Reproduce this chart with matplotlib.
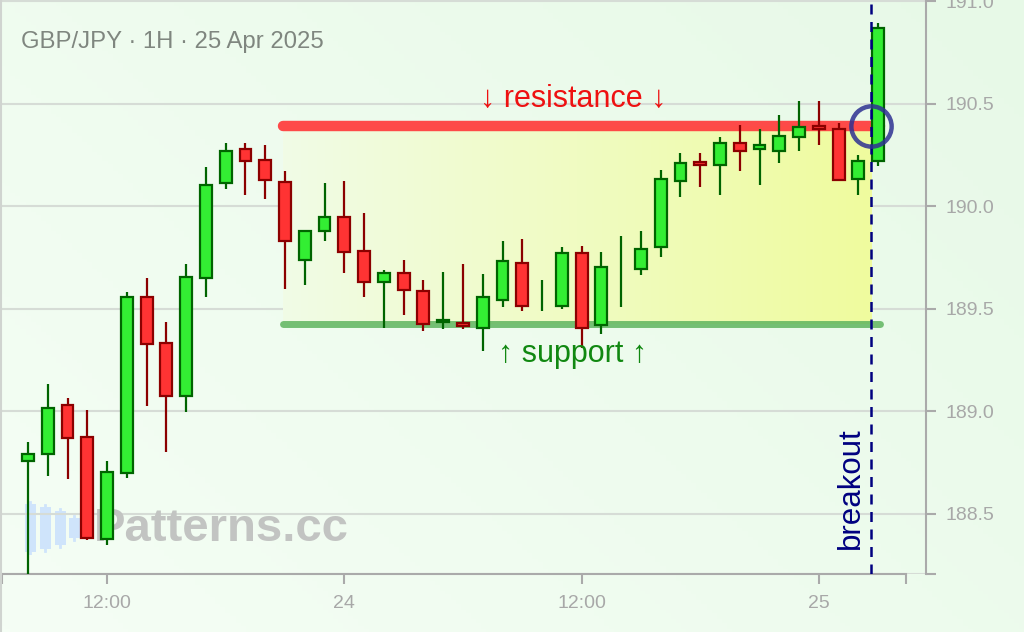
import matplotlib
matplotlib.use("Agg")
import matplotlib.pyplot as plt
import numpy as np
from matplotlib.colors import LinearSegmentedColormap
from matplotlib.lines import Line2D
from matplotlib.patches import Rectangle

plt.rcParams['font.family'] = ['Liberation Sans', 'DejaVu Sans']

# GBP/JPY hourly candles, 23 Apr 08:00 -> 25 Apr 03:00
opens = [188.758, 188.789, 189.028, 188.871, 188.377, 188.699, 189.554, 189.332, 189.072, 189.650,
         190.113, 190.279, 190.223, 190.115, 189.739, 189.876, 189.946, 189.781, 189.631, 189.674,
         189.585, 189.433, 189.430, 189.405, 189.543, 189.721, 189.560, 189.512, 189.770, 189.419,
         189.600, 189.691, 189.798, 190.121, 190.213, 190.201, 190.309, 190.279, 190.268, 190.338,
         190.391, 190.377, 190.132, 190.219]
closes = [188.789, 189.015, 188.866, 188.382, 188.701, 189.554, 189.327, 189.072, 189.652, 190.103,
          190.270, 190.218, 190.129, 189.828, 189.879, 189.946, 189.778, 189.631, 189.674, 189.590,
          189.424, 189.445, 189.414, 189.556, 189.732, 189.512, 189.560, 189.770, 189.405, 189.701,
          189.600, 189.789, 190.132, 190.211, 190.198, 190.309, 190.268, 190.299, 190.340, 190.387,
          190.375, 190.129, 190.221, 190.868]
highs = [188.847, 189.131, 189.062, 189.003, 188.758, 189.582, 189.650, 189.435, 189.719, 190.190,
         190.307, 190.307, 190.298, 190.170, 189.884, 190.111, 190.121, 189.964, 189.690, 189.739,
         189.641, 189.680, 189.719, 189.670, 189.828, 189.837, 189.641, 189.798, 189.807, 189.778,
         189.855, 189.876, 190.178, 190.257, 190.257, 190.337, 190.394, 190.375, 190.445, 190.513,
         190.513, 190.404, 190.247, 190.894]
lows = [188.204, 188.685, 188.670, 188.371, 188.348, 188.672, 189.023, 188.798, 188.995, 189.554,
        190.083, 190.056, 190.034, 189.595, 189.613, 189.828, 189.672, 189.554, 189.407, 189.468,
        189.389, 189.399, 189.399, 189.291, 189.507, 189.487, 189.487, 189.497, 189.309, 189.377,
        189.508, 189.662, 189.750, 190.044, 190.093, 190.056, 190.172, 190.105, 190.211, 190.270,
        190.299, 190.126, 190.056, 190.195]

xtick_pos = [4, 16, 28, 40]
xtick_labels = ['12:00', '24', '12:00', '25']
yticks = [188.5, 189.0, 189.5, 190.0, 190.5, 191.0]

resistance = 190.388
support = 189.425
zone_start = 12.9
zone_end = 43.1
breakout_x = 42.65

x = np.arange(len(opens))
o = np.array(opens)
c = np.array(closes)
h = np.array(highs)
l = np.array(lows)
up = c >= o

fig = plt.figure(figsize=(10.24, 6.32), dpi=100)
fig.patch.set_facecolor('#f0fcf0')

# soft background wash
bg = fig.add_axes([0, 0, 1, 1], zorder=-10)
gx, gy = np.meshgrid(np.linspace(0, 1, 200), np.linspace(0, 1, 200))
bg.imshow(gx * 0.6 + (1 - gy) * 0.4, extent=[0, 1, 0, 1], aspect='auto',
          cmap=LinearSegmentedColormap.from_list('bg', ['#f5fef5', '#e7f9e7']))
bg.axis('off')

# watermark icon (light blue candles)
icon = fig.add_axes([22 / 1024, 77 / 632, 62 / 1024, 54 / 632], zorder=-1)
icon_x = [0.8, 2.3, 3.8, 5.2]
icon_h = [1.0, 0.9, 0.72, 0.46]
for ix, ih in zip(icon_x, icon_h):
    icon.add_patch(Rectangle((ix - 0.55, 0.5 - ih / 2 + 0.04), 1.1, ih - 0.08,
                             color='#cfe4fb', lw=0))
    icon.plot([ix, ix], [0.5 - ih / 2, 0.5 + ih / 2], color='#cfe4fb', lw=2)
icon.set_xlim(0, 6.2)
icon.set_ylim(-0.02, 1.02)
icon.axis('off')

ax = fig.add_axes([2 / 1024, 58 / 632, 924 / 1024, 574 / 632])
ax.set_facecolor('none')

# range zone between support and resistance
zone_cmap = LinearSegmentedColormap.from_list('zone', ['#f1fbe6', '#effc9e'])
ax.imshow(np.linspace(0, 1, 256).reshape(1, -1), cmap=zone_cmap, aspect='auto',
          extent=[zone_start, breakout_x, support, resistance], zorder=1)

ax.plot([zone_start, zone_end], [resistance, resistance], color='#ff4040', lw=7.5,
        alpha=0.95, solid_capstyle='round', zorder=2)
ax.plot([zone_start, zone_end], [support, support], color='#5fb55f', lw=5,
        alpha=0.85, solid_capstyle='round', zorder=2)

# candles
ax.vlines(x[up], l[up], h[up], color='#006400', lw=1.6, zorder=4)
ax.vlines(x[~up], l[~up], h[~up], color='#8b0000', lw=1.6, zorder=4)
has_body = np.abs(c - o) > 1e-6
m = up & has_body
ax.bar(x[m], (c - o)[m], bottom=o[m], width=0.6, color='#33ee33',
       edgecolor='#006400', lw=1.6, zorder=5)
m = ~up & has_body
ax.bar(x[m], (o - c)[m], bottom=c[m], width=0.6, color='#ff3333',
       edgecolor='#8b0000', lw=1.6, zorder=5)

# breakout marker
ax.axvline(breakout_x, color='#000080', lw=1.8, ls=(0, (4, 3)), zorder=7)
ax.plot([breakout_x], [resistance], 'o', ms=29, mfc='none', mec='#2e3192',
        mew=3.2, alpha=0.85, zorder=8)

ax.text(27.55, 190.52, '\u2193 resistance \u2193', color='#ee1111', fontsize=22,
        ha='center', va='center', zorder=6)
ax.text(27.55, 189.28, '\u2191 support \u2191', color='#118811', fontsize=22,
        ha='center', va='center', zorder=6)
ax.text(41.65, 188.625, 'breakout', color='#000080', fontsize=22.5, rotation=90,
        ha='center', va='center', zorder=6)

# watermark text
ax.text(0.0995, 0.078, 'Patterns.cc', transform=ax.transAxes, fontsize=34,
        fontweight='bold', color='#c2c4c2', ha='left', va='center', zorder=3)

fig.text(21 / 1024, 1 - 42 / 632, 'GBP/JPY \u00b7 1H \u00b7 25 Apr 2025', fontsize=17.2,
         color='#7f867f', ha='left', va='center')

# axes styling
ax.set_xlim(-1.315, 45.42)
ax.set_ylim(188.205, 191.005)
ax.grid(axis='y', color='#d6dcd6', lw=1.5)
ax.set_axisbelow(True)
for s in ['top', 'left']:
    ax.spines[s].set_visible(False)
for s in ['bottom', 'right']:
    ax.spines[s].set_color('#aaaaaa')
    ax.spines[s].set_linewidth(1.5)
ax.spines['bottom'].set_bounds(-1.315, 44.41)

ax.set_xticks([-1.315] + xtick_pos + [44.41])
ax.set_xticklabels([''] + xtick_labels + [''])
ax.yaxis.tick_right()
ax.set_yticks([188.205] + yticks)
ax.set_yticklabels([''] + ['%.1f' % v for v in yticks])
ax.tick_params(colors='#aaaaaa', labelcolor='#a8a8a8', labelsize=14,
               length=7, width=1.5, direction='out')
ax.tick_params(axis='x', pad=8)
ax.tick_params(axis='y', pad=7)

fig.add_artist(Line2D([1 / 1024, 1 / 1024], [0, 1], color='#d0d4d0', lw=1.5))

fig.savefig('out.png', dpi=100, facecolor=fig.get_facecolor())
